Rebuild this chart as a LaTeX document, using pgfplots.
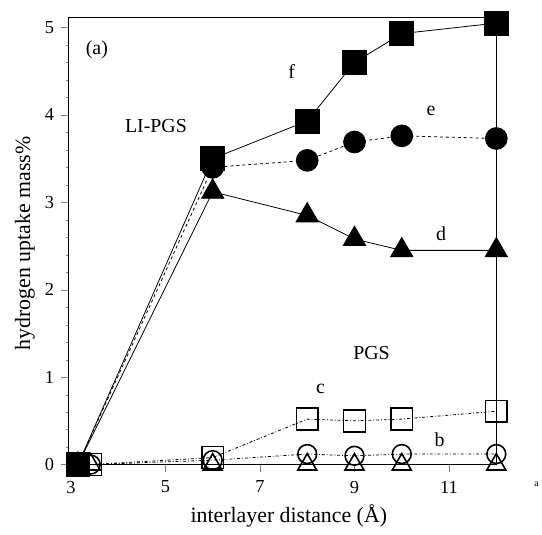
\documentclass[border=0pt]{standalone}
\usepackage{fontspec}
\setmainfont{Liberation Serif}
\usepackage{pgfplots}
\pgfplotsset{compat=1.18}
\begin{document}
\begin{tikzpicture}[font=\fontsize{20bp}{24bp}\selectfont]
\begin{axis}[
  scale only axis, width=431bp, height=450bp,
  xmin=2.95, xmax=12, ymin=0, ymax=5.11,
  xtick={3,5,7,9,11}, ytick={0,1,2,3,4,5},
  minor y tick num=4,
  tick align=outside, tick pos=left,
  major tick length=8bp, minor tick length=3bp,
  /pgf/number format/assume math mode=true,
  ticklabel style={font=\fontsize{18.5bp}{22bp}\selectfont},
  xticklabel style={yshift=-5bp},
  yticklabel style={xshift=-3bp},
  xlabel={interlayer distance (Å)},
  ylabel={hydrogen uptake mass\%},
  xlabel style={font=\fontsize{22bp}{26bp}\selectfont, at={(axis description cs:0.515,-0.115)}, anchor=center},
  ylabel style={font=\fontsize{22bp}{26bp}\selectfont, at={(axis description cs:-0.102,0.495)}, anchor=center},
  axis line style={line width=1.2pt},
  clip=false,
  every axis plot/.append style={black, line width=0.8pt},
]
% f: filled squares
\addplot[mark=square*, mark size=12bp, mark options={solid}] coordinates {(3.15,0) (6,3.50) (8,3.93) (9,4.60) (10,4.93) (12,5.05)};
% e: filled circles
\addplot[dashed, mark=*, mark size=11bp, mark options={solid}] coordinates {(3.15,0) (6,3.40) (8,3.48) (9,3.69) (10,3.76) (12,3.73)};
% d: filled triangles
\addplot[mark=triangle*, mark size=13bp, mark options={solid}] coordinates {(3.15,0) (6,3.12) (8,2.85) (9,2.58) (10,2.45) (12,2.45)};
% c: open squares
\addplot[dash dot, mark=square, mark size=11bp, mark options={solid, line width=1.6pt}] coordinates {(3.42,0) (6,0.08) (8,0.52) (9,0.50) (10,0.52) (12,0.61)};
% b: open circles
\addplot[dash dot, mark=o, mark size=9.5bp, mark options={solid, line width=1.6pt}] coordinates {(3.42,0) (6,0.05) (8,0.12) (9,0.10) (10,0.12) (12,0.12)};
% a: open triangles
\addplot[line width=1.2pt, mark=triangle, mark size=11bp, mark options={solid, line width=1.6pt}] coordinates {(3.42,0) (6,0.00) (8,0.00) (9,0.00) (10,0.00) (12,0.00)};
\node at (axis cs:3.55,4.75) {(a)};
\node at (axis cs:7.67,4.50) {f};
\node at (axis cs:10.62,4.04) {e};
\node at (axis cs:10.83,2.64) {d};
\node at (axis cs:4.8,3.87) {LI-PGS};
\node at (axis cs:9.36,1.28) {PGS};
\node at (axis cs:8.28,0.86) {c};
\node at (axis cs:10.8,0.28) {b};
\node[font=\fontsize{10bp}{12bp}\selectfont] at (axis cs:12.85,-0.22) {a};
\end{axis}
\path[use as bounding box] (-69bp,-70bp) rectangle (473bp,468bp);
\end{tikzpicture}
\end{document}
